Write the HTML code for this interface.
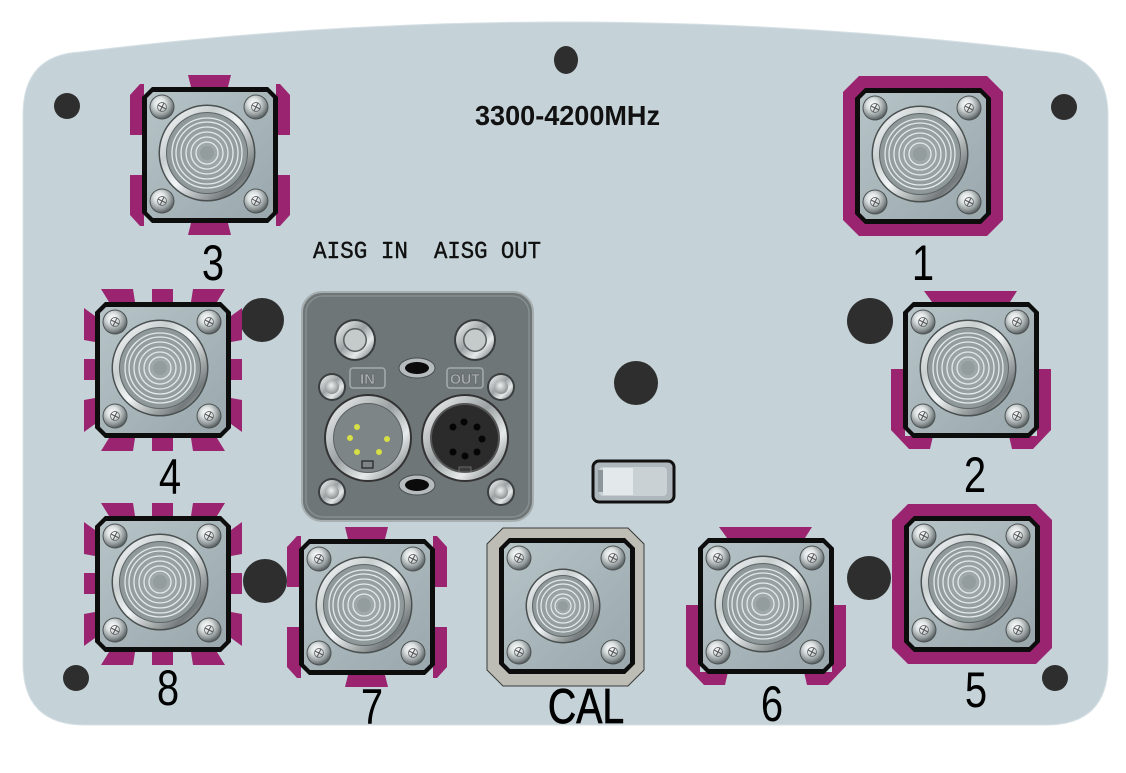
<!DOCTYPE html>
<html><head><meta charset="utf-8"><style>
html,body{margin:0;padding:0;background:#fff;}
svg{display:block;}
</style></head><body>
<svg width="1126" height="773" viewBox="0 0 1126 773" xmlns="http://www.w3.org/2000/svg">
<defs>
<linearGradient id="plate" x1="0" y1="0" x2="1" y2="1"><stop offset="0" stop-color="#b6c3c7"/><stop offset="1" stop-color="#9aa8ad"/></linearGradient>
<radialGradient id="scr" cx=".4" cy=".35" r=".7"><stop offset="0" stop-color="#ffffff"/><stop offset=".35" stop-color="#dce1e1"/><stop offset=".75" stop-color="#8b9293"/><stop offset="1" stop-color="#4e5455"/></radialGradient>
<linearGradient id="rim" x1="0" y1="0" x2="1" y2="1"><stop offset="0" stop-color="#ffffff"/><stop offset=".3" stop-color="#c9cfcf"/><stop offset=".5" stop-color="#f2f5f5"/><stop offset=".82" stop-color="#747a7b"/><stop offset="1" stop-color="#d2d7d7"/></linearGradient>
<radialGradient id="face" cx=".5" cy=".5" r=".5"><stop offset="0" stop-color="#a4adae"/><stop offset="1" stop-color="#8e9899"/></radialGradient>
<linearGradient id="ch" x1="0" y1="0" x2="1" y2="1"><stop offset="0" stop-color="#f7f9f9"/><stop offset=".45" stop-color="#9ca2a3"/><stop offset=".7" stop-color="#e6eaea"/><stop offset="1" stop-color="#5f6566"/></linearGradient>
<radialGradient id="bowl" cx=".45" cy=".4" r=".6"><stop offset="0" stop-color="#f0f2f2"/><stop offset="1" stop-color="#8a9091"/></radialGradient>

<g id="screw">
  <circle r="12.5" fill="#4d5354"/>
  <circle r="11.5" fill="url(#scr)"/>
  <circle r="4.5" fill="none" stroke="#6a7071" stroke-width="0.9"/>
  <path d="M-4,-2L4,2M-2,4L2,-4" stroke="#555" stroke-width="1"/>
</g>

<g id="body">
  <path d="M10,0H126L136,10V126L126,136H10L0,126V10Z" fill="#0d0d0d"/>
  <path d="M11,5H125L131,11V125L125,131H11L5,125V11Z" fill="url(#plate)"/>
  <use href="#screw" x="20" y="20"/>
  <use href="#screw" x="114" y="20"/>
  <use href="#screw" x="20" y="114"/>
  <use href="#screw" x="114" y="114"/>
</g>

<g id="cbig">
  <circle cx="65" cy="66" r="48.5" fill="#4a5050"/>
  <circle cx="65" cy="66" r="47" fill="url(#rim)"/>
  <circle cx="65" cy="66" r="41" fill="#5e6566"/>
  <circle cx="65" cy="66" r="40" fill="url(#face)"/>
  <g fill="none" stroke="#e4eaea" stroke-width="1.3">
    <circle cx="65" cy="66" r="35"/><circle cx="65" cy="66" r="31"/>
    <circle cx="65" cy="66" r="26"/><circle cx="65" cy="66" r="21"/>
    <circle cx="65" cy="66" r="16"/><circle cx="65" cy="66" r="11"/>
  </g>
  <circle cx="65" cy="66" r="7" fill="#949d9e"/>
</g>

<g id="csmall">
  <circle cx="64" cy="68" r="37.5" fill="#4a5050"/>
  <circle cx="64" cy="68" r="36" fill="url(#rim)"/>
  <circle cx="64" cy="68" r="31" fill="#5e6566"/>
  <circle cx="64" cy="68" r="30" fill="url(#face)"/>
  <g fill="none" stroke="#e4eaea" stroke-width="1.2">
    <circle cx="64" cy="68" r="26"/><circle cx="64" cy="68" r="22"/>
    <circle cx="64" cy="68" r="17"/><circle cx="64" cy="68" r="12"/>
    <circle cx="64" cy="68" r="8"/>
  </g>
  <circle cx="64" cy="68" r="5" fill="#949d9e"/>
</g>

<g id="tabA" fill="#9a246f">
  <path d="M46,-12H89L86,0H49Z"/>
  <path d="M49,136H86L89,148H46Z"/>
  <path d="M-12,8L-2,-3H2V48H-12Z"/>
  <path d="M-12,88H2V139H-2L-12,128Z"/>
  <path d="M148,8L138,-3H134V48H148Z"/>
  <path d="M148,88H134V139H138L148,128Z"/>
</g>
<g id="tabB" fill="#9a246f">
  <path d="M6,-13H38L40,0H14Z"/><path d="M57,-13H78V0H57Z"/><path d="M98,-13H130L122,0H96Z"/>
  <path d="M14,136H40L38,149H6Z"/><path d="M57,136H78V149H57Z"/><path d="M96,136H122L130,149H98Z"/>
  <path d="M-11,6L0,14V40L-11,38Z"/><path d="M-11,57H0V78H-11Z"/><path d="M-11,98L0,96V122L-11,130Z"/>
  <path d="M147,6L136,14V40L147,38Z"/><path d="M136,57H147V78H136Z"/><path d="M147,98L136,96V122L147,130Z"/>
</g>
<g id="tabC" fill="#9a246f">
  <path d="M21,-11H114L107,0H29Z"/>
  <path d="M-12,67H2V134H30L27,147H6L-12,128Z"/>
  <path d="M148,67H134V134H106L109,147H130L148,128Z"/>
</g>
<g id="tabD" fill="#9a246f">
  <path d="M4,-12H132L148,4V132L132,148H4L-12,132V4Z"/>
</g>
</defs>

<!-- panel -->
<path d="M23,115C23,75 42,54 80,52Q565,-8 1050,52C1086,54 1108,76 1108,115L1108,663Q1108,725 1046,725L85,725Q23,725 23,663Z" fill="#c5d3d9" stroke="#d6e0e4" stroke-width="1"/>

<!-- small holes -->
<g fill="#2e2e2e">
  <circle cx="67" cy="106" r="13"/>
  <ellipse cx="566" cy="60" rx="12" ry="14"/>
  <circle cx="1064" cy="107" r="13"/>
  <circle cx="76" cy="678" r="13"/>
  <circle cx="1055" cy="678" r="13"/>
  <circle cx="262" cy="320" r="22"/>
  <circle cx="870" cy="321" r="23"/>
  <circle cx="636" cy="383" r="22"/>
  <circle cx="265" cy="581" r="22"/>
  <circle cx="869" cy="578" r="22"/>
</g>

<!-- text -->
<text x="475" y="125" font-family="Liberation Sans, sans-serif" font-weight="bold" font-size="28" textLength="185" lengthAdjust="spacingAndGlyphs" fill="#111">3300-4200MHz</text>
<text x="313" y="258" font-family="Liberation Mono, monospace" font-size="24" textLength="95" lengthAdjust="spacingAndGlyphs" fill="#111" stroke="#111" stroke-width="0.4">AISG IN</text>
<text x="434" y="258" font-family="Liberation Mono, monospace" font-size="24" textLength="107" lengthAdjust="spacingAndGlyphs" fill="#111" stroke="#111" stroke-width="0.4">AISG OUT</text>

<!-- connectors -->
<g transform="translate(142,87)"><use href="#tabA"/><use href="#body"/><use href="#cbig"/></g>
<g transform="translate(855,88)"><use href="#tabD"/><use href="#body"/><use href="#cbig"/></g>
<g transform="translate(95,302)"><use href="#tabB"/><use href="#body"/><use href="#cbig"/></g>
<g transform="translate(903,302)"><use href="#tabC"/><use href="#body"/><use href="#cbig"/></g>
<g transform="translate(95,516)"><use href="#tabB"/><use href="#body"/><use href="#cbig"/></g>
<g transform="translate(299,539)"><use href="#tabA"/><use href="#body"/><use href="#cbig"/></g>
<g transform="translate(698,538)"><use href="#tabC"/><use href="#body"/><use href="#cbig"/></g>
<g transform="translate(904,516)"><use href="#tabD"/><use href="#body"/><use href="#cbig"/></g>

<!-- CAL -->
<path d="M503,528H628L644,544V670L628,686H503L487,670V544Z" fill="#bdbdb5" stroke="#3a3a3a" stroke-width="1"/>
<g transform="translate(499,538)"><use href="#body"/><use href="#csmall"/></g>

<!-- switch -->
<rect x="593" y="461" width="81" height="41" rx="6" fill="#aeb8bc" stroke="#111" stroke-width="3"/>
<rect x="599" y="467" width="68" height="29" rx="4" fill="#c9d1d4"/>
<rect x="603" y="468" width="30" height="27" fill="#e3e8ea"/>
<rect x="598" y="470" width="5" height="22" fill="#8d979b"/>

<!-- AISG block -->
<rect x="302" y="292" width="231" height="229" rx="20" fill="#6f7677" stroke="#a7aeb0" stroke-width="2"/>
<rect x="306" y="296" width="223" height="221" rx="17" fill="none" stroke="#878e8f" stroke-width="1.5"/>
<g>
  <circle cx="355" cy="340" r="21" fill="#3a3d3e"/><circle cx="355" cy="340" r="19" fill="url(#ch)"/><circle cx="355" cy="340" r="12" fill="#5a5f60"/><circle cx="355" cy="340" r="10.5" fill="#c5cacb"/>
  <circle cx="475" cy="340" r="21" fill="#3a3d3e"/><circle cx="475" cy="340" r="19" fill="url(#ch)"/><circle cx="475" cy="340" r="12" fill="#5a5f60"/><circle cx="475" cy="340" r="10.5" fill="#c5cacb"/>
  <ellipse cx="417" cy="368" rx="18" ry="10" fill="#b6bcbd" stroke="#4a4f50"/><ellipse cx="417" cy="368" rx="12" ry="6" fill="#0b0b0b"/>
  <ellipse cx="417" cy="485" rx="18" ry="10" fill="#b6bcbd" stroke="#4a4f50"/><ellipse cx="417" cy="485" rx="12" ry="6" fill="#0b0b0b"/>
  <circle cx="332" cy="387" r="14" fill="#3b3f40"/><circle cx="332" cy="387" r="12" fill="url(#ch)"/><circle cx="332" cy="387" r="7" fill="url(#bowl)"/>
  <circle cx="501" cy="387" r="14" fill="#3b3f40"/><circle cx="501" cy="387" r="12" fill="url(#ch)"/><circle cx="501" cy="387" r="7" fill="url(#bowl)"/>
  <circle cx="332" cy="492" r="14" fill="#3b3f40"/><circle cx="332" cy="492" r="12" fill="url(#ch)"/><circle cx="332" cy="492" r="7" fill="url(#bowl)"/>
  <circle cx="501" cy="492" r="14" fill="#3b3f40"/><circle cx="501" cy="492" r="12" fill="url(#ch)"/><circle cx="501" cy="492" r="7" fill="url(#bowl)"/>
  <rect x="350" y="368" width="35" height="20" rx="3" fill="none" stroke="#a4abac" stroke-width="1.5"/>
  <text x="367.5" y="384" text-anchor="middle" font-family="Liberation Sans, sans-serif" font-weight="bold" font-size="15" fill="#a9b0b1" stroke="#555" stroke-width="0.4">IN</text>
  <rect x="447" y="368" width="36" height="20" rx="3" fill="none" stroke="#a4abac" stroke-width="1.5"/>
  <text x="465" y="384" text-anchor="middle" font-family="Liberation Sans, sans-serif" font-weight="bold" font-size="15" textLength="30" lengthAdjust="spacingAndGlyphs" fill="#a9b0b1" stroke="#555" stroke-width="0.4">OUT</text>
  <!-- IN connector -->
  <circle cx="368" cy="438" r="44" fill="#333"/><circle cx="368" cy="438" r="42" fill="url(#ch)"/><circle cx="368" cy="438" r="35" fill="#5b6162"/><circle cx="368" cy="438" r="34" fill="#7e8586"/>
  <g fill="#d6df45"><circle cx="357" cy="427" r="3"/><circle cx="350" cy="438" r="3"/><circle cx="387" cy="439" r="3"/><circle cx="357" cy="452" r="3"/><circle cx="379" cy="452" r="3"/></g>
  <rect x="362" y="461" width="11" height="7" fill="none" stroke="#222" stroke-width="1.2"/>
  <!-- OUT connector -->
  <circle cx="465" cy="438" r="44" fill="#333"/><circle cx="465" cy="438" r="42" fill="url(#ch)"/><circle cx="465" cy="438" r="35" fill="#555"/><circle cx="465" cy="438" r="33" fill="#2b2b2b"/>
  <g fill="#050505"><circle cx="453" cy="427" r="3.5"/><circle cx="464" cy="422" r="3.5"/><circle cx="477" cy="427" r="3.5"/><circle cx="482" cy="439" r="3.5"/><circle cx="477" cy="452" r="3.5"/><circle cx="465" cy="456" r="3.5"/><circle cx="453" cy="452" r="3.5"/></g>
  <rect x="459" y="467" width="12" height="5" fill="#3a3a3a" stroke="#777" stroke-width="0.8"/>
</g>

<!-- labels -->
<g font-family="Liberation Sans, sans-serif" font-size="50" fill="#000" text-anchor="middle">
  <g transform="translate(213,280) scale(0.8,1)"><text x="0" y="0">3</text></g>
  <g transform="translate(923,280) scale(0.8,1)"><text x="0" y="0">1</text></g>
  <g transform="translate(170,494) scale(0.8,1)"><text x="0" y="0">4</text></g>
  <g transform="translate(975,492) scale(0.8,1)"><text x="0" y="0">2</text></g>
  <g transform="translate(168,705) scale(0.8,1)"><text x="0" y="0">8</text></g>
  <g transform="translate(372,724) scale(0.8,1)"><text x="0" y="0">7</text></g>
  <g transform="translate(772,721) scale(0.8,1)"><text x="0" y="0">6</text></g>
  <g transform="translate(976,707) scale(0.8,1)"><text x="0" y="0">5</text></g>
  <g transform="translate(586,723) scale(0.8,1)"><text x="0" y="0" font-size="49" stroke="#000" stroke-width="0.8">CAL</text></g>
</g>
</svg>
</body></html>
